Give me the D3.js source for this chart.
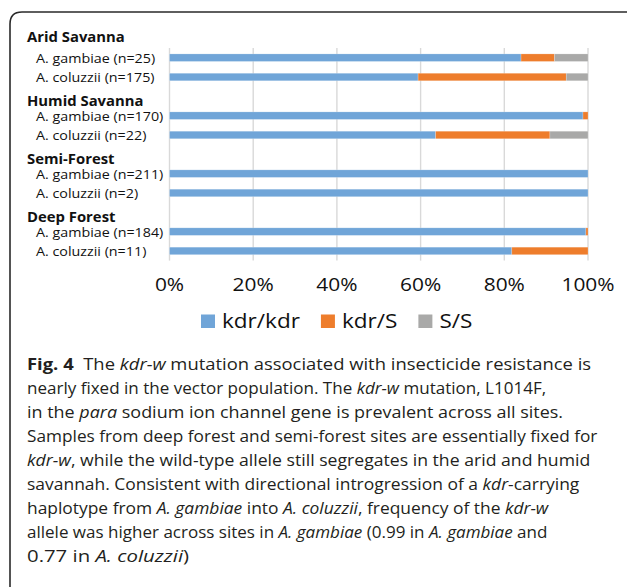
<!DOCTYPE html>
<html>
<head>
<meta charset="utf-8">
<script src="https://cdn.jsdelivr.net/npm/d3@7"></script>
<style>
  html, body { margin: 0; padding: 0; background: #fff; }
  svg { display: block; }
</style>
</head>
<body>
<svg id="chart" width="627" height="587"></svg>
<script>
// ---- data ----
const groups = ["Arid Savanna", "Humid Savanna", "Semi-Forest", "Deep Forest"];
const rowLabels = [
  "A. gambiae (n=25)", "A. coluzzii (n=175)",
  "A. gambiae (n=170)", "A. coluzzii (n=22)",
  "A. gambiae (n=211)", "A. coluzzii (n=2)",
  "A. gambiae (n=184)", "A. coluzzii (n=11)"
];
const rowGroup = [0, 0, 1, 1, 2, 2, 3, 3];
const seriesNames = ["kdr/kdr", "kdr/S", "S/S"];
const kdrKdr = [84.0, 59.4, 98.8, 63.6, 100, 100, 99.5, 81.8];
const kdrS   = [8.0, 35.4, 1.2, 27.3, 0, 0, 0.5, 18.2];
const sS     = [8.0, 5.2, 0, 9.1, 0, 0, 0, 0];
const xTicks = [0, 20, 40, 60, 80, 100];
const colors = ["#70a5d8", "#ee7d2c", "#a9a9a8"];

const captionLines = [
  [["Fig. 4", "b"], ["  The ", "n"], ["kdr-w", "i"], [" mutation associated with insecticide resistance is", "n"]],
  [["nearly fixed in the vector population. The ", "n"], ["kdr-w", "i"], [" mutation, L1014F,", "n"]],
  [["in the ", "n"], ["para", "i"], [" sodium ion channel gene is prevalent across all sites.", "n"]],
  [["Samples from deep forest and semi-forest sites are essentially fixed for", "n"]],
  [["kdr-w", "i"], [", while the wild-type allele still segregates in the arid and humid", "n"]],
  [["savannah. Consistent with directional introgression of a ", "n"], ["kdr", "i"], ["-carrying", "n"]],
  [["haplotype from ", "n"], ["A. gambiae", "i"], [" into ", "n"], ["A. coluzzii", "i"], [", frequency of the ", "n"], ["kdr-w", "i"]],
  [["allele was higher across sites in ", "n"], ["A. gambiae", "i"], [" (0.99 in ", "n"], ["A. gambiae", "i"], [" and", "n"]],
  [["0.77 in ", "n"], ["A. coluzzii", "i"], [")", "n"]]
];

// ---- drawing ----
const svg = d3.select("#chart");
const FONT = "'Open Sans', 'Noto Sans', sans-serif";
const SX = 1.1; // horizontal stretch of chart text

// frame
svg.append("path")
  .attr("d", "M10,587 L10,24 Q10,12 22,12 L627,12")
  .attr("fill", "none").attr("stroke", "#2a2a2a").attr("stroke-width", 1.6);

// slots: header + rows per group
const slots = [];
groups.forEach((g, gi) => {
  slots.push({ key: "h" + gi, type: "h", gi });
  rowLabels.forEach((r, ri) => { if (rowGroup[ri] === gi) slots.push({ key: "r" + ri, type: "r", ri }); });
});

const x = d3.scaleLinear().domain([0, 100]).range([169.5, 588]);
const y = d3.scaleBand().domain(slots.map(s => s.key))
  .range([28.7, 260.6]).paddingInner(0.61).paddingOuter(0.305);

const yTop = y("r0") - (y.step() - y.bandwidth()) / 2;
const yBot = 260.6;

// gridlines
svg.append("g").selectAll("line").data(xTicks).join("line")
  .attr("x1", d => x(d)).attr("x2", d => x(d))
  .attr("y1", yTop).attr("y2", yBot)
  .attr("stroke", "#d9d9d9").attr("stroke-width", 1.4);

// stacked bars
const rows = rowLabels.map((r, i) => ({ key: "r" + i, v: [kdrKdr[i], kdrS[i], sS[i]] }));
const stack = d3.stack().keys([0, 1, 2]).value((d, k) => d.v[k]);
const stacked = stack(rows);
svg.append("g").selectAll("g").data(stacked).join("g")
  .attr("fill", (d, i) => colors[i])
  .selectAll("rect").data(d => d).join("rect")
  .attr("x", d => x(d[0]))
  .attr("width", d => Math.max(0, x(d[1]) - x(d[0])))
  .attr("y", d => y(d.data.key))
  .attr("height", y.bandwidth())
  .attr("stroke", "#ffffff").attr("stroke-opacity", 0.35).attr("stroke-width", 0.6);

function stretchText(sel, xx, yy, sx) {
  return sel.attr("transform", `translate(${xx},${yy}) scale(${sx},1)`);
}

// row labels
const lab = svg.append("g").attr("font-family", FONT).attr("fill", "#111");
rowLabels.forEach((r, i) => {
  const cy = y("r" + i) + y.bandwidth() / 2;
  stretchText(lab.append("text").attr("font-size", 13).text(r), 36, cy + 5, SX);
});
// group headers
groups.forEach((g, gi) => {
  const cy = y("h" + gi) + y.bandwidth() / 2;
  const off = gi === 0 ? 3.5 : 9.5;
  stretchText(lab.append("text").attr("font-size", 13.5).attr("font-weight", "bold").text(g), 27, cy + off, SX);
});

// x tick labels
const ticks = svg.append("g").attr("font-family", FONT).attr("fill", "#111");
xTicks.forEach(t => {
  stretchText(ticks.append("text").attr("font-size", 19).attr("text-anchor", "middle").text(t + "%"),
    x(t), 291, SX);
});

// legend
const leg = svg.append("g").attr("font-family", FONT).attr("fill", "#111");
let lx = 201;
seriesNames.forEach((s, i) => {
  leg.append("rect").attr("x", lx).attr("y", 314.5).attr("width", 14).attr("height", 13.5).attr("fill", colors[i]);
  const t = stretchText(leg.append("text").attr("font-size", 20.5).text(s), lx + 21, 328, SX);
  const w = t.node().getComputedTextLength() * SX;
  lx += 21 + w + 21;
});

// caption: each line fitted to the width it has in the figure
const captionLineWidths = [564, 519, 536, 570, 563, 552, 521, 520, 162];
const cap = svg.append("g").attr("font-family", FONT).attr("fill", "#231f20").attr("font-size", 16.8);
captionLines.forEach((line, li) => {
  const t = cap.append("text").attr("xml:space", "preserve").style("white-space", "pre");
  line.forEach(([str, st]) => {
    t.append("tspan").text(str)
      .attr("font-weight", st === "b" ? "bold" : null)
      .attr("font-style", st === "i" ? "italic" : null);
  });
  const w = t.node().getComputedTextLength();
  stretchText(t, 27, 370 + 24 * li, captionLineWidths[li] / w);
});
</script>
</body>
</html>
